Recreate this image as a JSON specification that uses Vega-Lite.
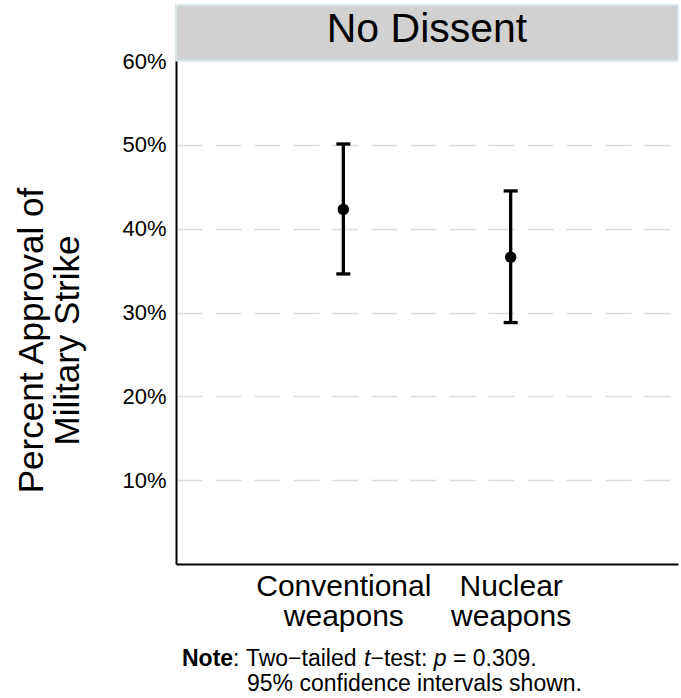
{
  "$schema": "https://vega.github.io/schema/vega-lite/v6.json",
  "padding": {"left": 14, "top": 4, "right": 3, "bottom": 4},
  "autosize": {"type": "pad"},
  "background": "white",
  "config": {
    "font": "Liberation Sans",
    "view": {"stroke": null},
    "text": {"color": "black"}
  },
  "bounds": "flush",
  "spacing": 0,
  "vconcat": [
    {
      "width": 502,
      "height": 56,
      "view": {"fill": "#d0d1d0", "stroke": "#dce8ef", "strokeWidth": 2},
      "data": {"values": [{"panel": "No Dissent"}]},
      "mark": {"type": "text", "fontSize": 41, "baseline": "alphabetic", "dy": 9, "color": "black"},
      "encoding": {"text": {"field": "panel"}}
    },
    {
      "width": 502,
      "height": 503,
      "layer": [
        {
          "data": {
            "values": [
              {"weapon": "Conventional weapons", "mean": 0.423, "lo": 0.346, "hi": 0.501},
              {"weapon": "Nuclear weapons", "mean": 0.366, "lo": 0.288, "hi": 0.445}
            ]
          },
          "encoding": {
            "x": {
              "field": "weapon",
              "type": "nominal",
              "sort": null,
              "scale": {"type": "point", "padding": 1},
              "axis": {
                "title": null,
                "labelExpr": "split(datum.label, ' ')",
                "labelFontSize": 30,
                "labelLineHeight": 30,
                "labelColor": "black",
                "labelPadding": 7,
                "labelBaseline": "top",
                "labelAngle": 0,
                "ticks": false,
                "tickSize": 0,
                "domainColor": "black",
                "domainWidth": 2,
                "grid": false
              }
            }
          },
          "layer": [
            {
              "mark": {"type": "rule", "strokeWidth": 3.3, "color": "black"},
              "encoding": {
                "y": {
                  "field": "lo",
                  "type": "quantitative",
                  "scale": {"domain": [0, 0.6], "nice": false, "zero": false},
                  "axis": {
                    "title": ["Percent Approval of", "Military Strike"],
                    "values": [0.1, 0.2, 0.3, 0.4, 0.5, 0.6],
                    "format": ".0%",
                    "labelFontSize": 22,
                    "labelColor": "black",
                    "labelPadding": 10,
                    "ticks": false,
                    "tickSize": 0,
                    "domainColor": "black",
                    "domainWidth": 2,
                    "grid": true,
                    "gridColor": "#dcdcdc",
                    "gridWidth": 1.3,
                    "gridDash": [26, 13],
                    "gridOpacity": {"condition": {"test": "datum.value > 0.55", "value": 0}, "value": 1},
                    "titleFontSize": 35,
                    "titleFontWeight": "normal",
                    "titleColor": "black",
                    "titleAngle": 270,
                    "titleAlign": "center",
                    "titleBaseline": "alphabetic",
                    "titleX": -134,
                    "titleY": 279,
                    "titleLineHeight": 36
                  }
                },
                "y2": {"field": "hi"}
              }
            },
            {
              "mark": {"type": "tick", "size": 14, "thickness": 3.3, "color": "black", "opacity": 1},
              "encoding": {"y": {"field": "hi", "type": "quantitative"}}
            },
            {
              "mark": {"type": "tick", "size": 14, "thickness": 3.3, "color": "black", "opacity": 1},
              "encoding": {"y": {"field": "lo", "type": "quantitative"}}
            },
            {
              "mark": {"type": "circle", "size": 130, "color": "black", "opacity": 1},
              "encoding": {"y": {"field": "mean", "type": "quantitative"}}
            }
          ]
        },
        {
          "data": {"values": [{}]},
          "mark": {"type": "text", "text": "Note", "fontWeight": "bold", "fontSize": 23, "align": "left", "baseline": "alphabetic", "x": 6, "y": 605},
          "encoding": {}
        },
        {
          "data": {"values": [{}]},
          "mark": {"type": "text", "text": ":", "fontSize": 23, "align": "left", "baseline": "alphabetic", "x": 57.1, "y": 605},
          "encoding": {}
        },
        {
          "data": {"values": [{}]},
          "mark": {"type": "text", "text": "Two−tailed", "fontSize": 23, "align": "left", "baseline": "alphabetic", "x": 69.9, "y": 605},
          "encoding": {}
        },
        {
          "data": {"values": [{}]},
          "mark": {"type": "text", "text": "t", "fontStyle": "italic", "fontSize": 23, "align": "left", "baseline": "alphabetic", "x": 188.1, "y": 605},
          "encoding": {}
        },
        {
          "data": {"values": [{}]},
          "mark": {"type": "text", "text": "−test:", "fontSize": 23, "align": "left", "baseline": "alphabetic", "x": 194.5, "y": 605},
          "encoding": {}
        },
        {
          "data": {"values": [{}]},
          "mark": {"type": "text", "text": "p", "fontStyle": "italic", "fontSize": 23, "align": "left", "baseline": "alphabetic", "x": 257.8, "y": 605},
          "encoding": {}
        },
        {
          "data": {"values": [{}]},
          "mark": {"type": "text", "text": "=", "fontSize": 23, "align": "left", "baseline": "alphabetic", "x": 277, "y": 605},
          "encoding": {}
        },
        {
          "data": {"values": [{}]},
          "mark": {"type": "text", "text": "0.309.", "fontSize": 23, "align": "left", "baseline": "alphabetic", "x": 296.8, "y": 605},
          "encoding": {}
        },
        {
          "data": {"values": [{}]},
          "mark": {"type": "text", "text": "95% confidence intervals shown.", "fontSize": 23, "align": "left", "baseline": "alphabetic", "x": 71, "y": 630},
          "encoding": {}
        }
      ]
    }
  ]
}
